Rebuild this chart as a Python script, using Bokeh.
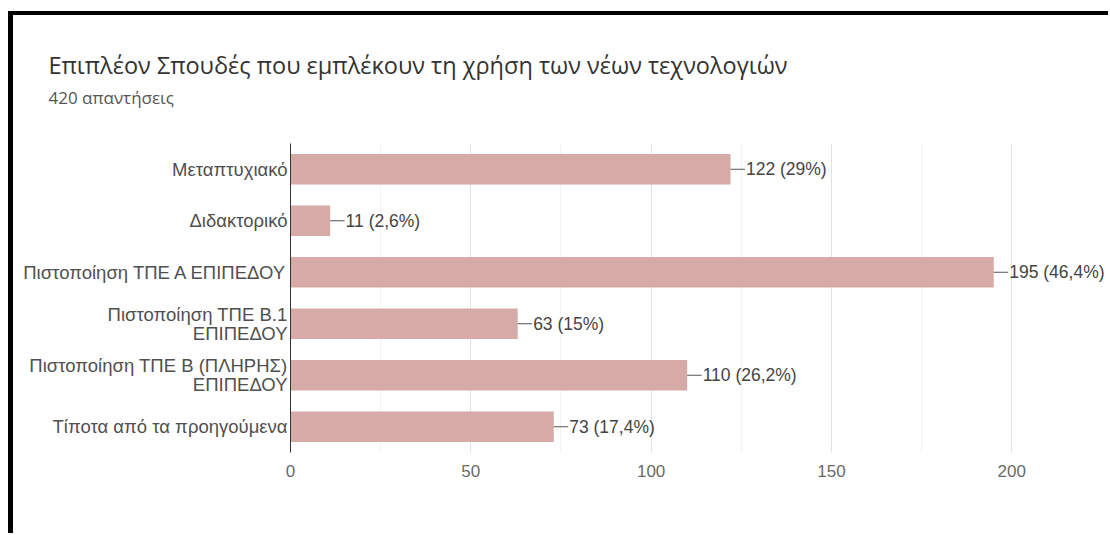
from bokeh.plotting import figure
from bokeh.models import FactorRange, FixedTicker, Title, ColumnDataSource
from bokeh.core.properties import value
from bokeh.embed import file_html
from bokeh.resources import INLINE

categories = [
    "Μεταπτυχιακό",
    "Διδακτορικό",
    "Πιστοποίηση ΤΠΕ Α ΕΠΙΠΕΔΟΥ",
    "Πιστοποίηση ΤΠΕ Β.1\nΕΠΙΠΕΔΟΥ",
    "Πιστοποίηση ΤΠΕ Β (ΠΛΗΡΗΣ)\nΕΠΙΠΕΔΟΥ",
    "Τίποτα από τα προηγούμενα",
]
counts = [122, 11, 195, 63, 110, 73]
percents = ["29%", "2,6%", "46,4%", "15%", "26,2%", "17,4%"]
x_ticks = [0, 50, 100, 150, 200]
x_minor = [25, 75, 125, 175]
title_text = "Επιπλέον Σπουδές που εμπλέκουν τη χρήση των νέων τεχνολογιών"
subtitle_text = "420 απαντήσεις"

labels = [f"{c} ({p})" for c, p in zip(counts, percents)]
src = ColumnDataSource(dict(
    cat=categories, n=counts, lab=labels,
    lead=[c + 4 for c in counts],
))

LABEL_FONT = "Liberation Sans"

p = figure(
    width=1100, height=522,
    y_range=FactorRange(factors=list(reversed(categories))),
    x_range=(0, 228.2),
    output_backend="svg", toolbar_location=None,
    min_border_left=277, min_border_right=0,
    min_border_top=128, min_border_bottom=85,
)
p.styles = {"border-top": "4px solid black", "border-left": "5px solid black",
            "margin-top": "11px", "margin-left": "8px"}

p.hbar(y="cat", right="n", left=0, height=0.59, source=src,
       fill_color="#d6aaa6", line_color=None)
p.segment(x0="n", x1="lead", y0="cat", y1="cat", source=src,
          line_color="#555555", line_width=1)
p.text(x="lead", y="cat", text="lab", source=src, x_offset=1,
       text_baseline="middle", text_align="left",
       text_font=value(LABEL_FONT), text_font_size="17.5px", text_color="#444444")

p.xaxis.ticker = FixedTicker(ticks=x_ticks, minor_ticks=x_minor)
p.xaxis.axis_line_color = None
p.xaxis.major_tick_line_color = None
p.xaxis.minor_tick_line_color = None
p.xaxis.major_tick_out = 0
p.xaxis.major_tick_in = 0
p.xaxis.minor_tick_out = 0
p.xaxis.major_label_standoff = 12
p.xaxis.major_label_text_font = LABEL_FONT
p.xaxis.major_label_text_font_size = "17px"
p.xaxis.major_label_text_color = "#6a6a6a"

p.yaxis.axis_line_color = "#333333"
p.yaxis.major_tick_line_color = None
p.yaxis.minor_tick_line_color = None
p.yaxis.major_tick_out = 0
p.yaxis.major_tick_in = 0
p.yaxis.major_label_standoff = 3
p.yaxis.major_label_text_font = LABEL_FONT
p.yaxis.major_label_text_font_size = "18.5px"
p.yaxis.major_label_text_line_height = 0.92
p.yaxis.major_label_text_color = "#505050"

p.ygrid.grid_line_color = None
p.xgrid.grid_line_color = "#e2e2e2"
p.xgrid.minor_grid_line_color = "#f2f2f2"
p.outline_line_color = None

# spacer between subtitle and plot frame
p.add_layout(Title(text=" ", text_font_size="1px", standoff=32), "above")
p.add_layout(Title(text=subtitle_text, text_font="Open Sans",
                   text_font_size="17px", text_color="#555555",
                   text_font_style="normal", align="left",
                   offset=-242, standoff=0), "above")
p.add_layout(Title(text=title_text, text_font="Open Sans",
                   text_font_size="23.5px", text_color="#333333",
                   text_font_style="normal", align="left",
                   offset=-242, standoff=6), "above")

open("out.html", "w").write(file_html(p, INLINE))
